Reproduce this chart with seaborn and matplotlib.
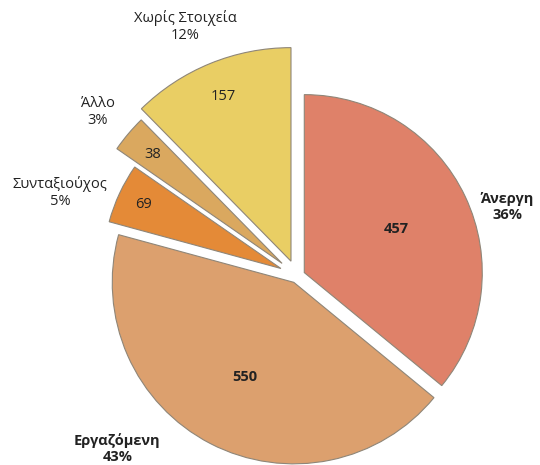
import numpy as np
import matplotlib
matplotlib.use("Agg")
import matplotlib.pyplot as plt
import seaborn as sns

# ---- data ----
categories = ["Άνεργη", "Εργαζόμενη", "Συνταξιούχος", "Άλλο", "Χωρίς Στοιχεία"]
values = [457, 550, 69, 38, 157]
percent_labels = ["36%", "43%", "5%", "3%", "12%"]

# ---- style ----
sns.set_theme(style="white")
plt.rcParams['font.family'] = ['Open Sans', 'DejaVu Sans']

colors = sns.color_palette(["#DF8169", "#DCA06E", "#E48A37", "#DAA85F", "#E9CE64"])
explode = [0.045, 0.04, 0.10, 0.11, 0.09]
radius_scale = [1.0, 1.02, 1.0, 1.13, 1.2]
value_dist = [0.57, 0.60, 0.85, 0.95, 1.0]
value_bold = [True, True, False, False, False]
label_bold = [True, True, False, False, False]
label_pos = [(1.18, 0.39), (-1.01, -0.97), (-1.33, 0.47), (-1.12, 0.92), (-0.63, 1.40)]

fig = plt.figure(figsize=(5.4, 4.65), dpi=100)
ax = fig.add_axes([0, 0, 1, 1])

wedges, _ = ax.pie(values, colors=colors, explode=explode, startangle=90,
                   counterclock=False,
                   wedgeprops=dict(edgecolor="#8f8678", linewidth=0.8))

for w, rs, d, b, v in zip(wedges, radius_scale, value_dist, value_bold, values):
    w.set_radius(w.r * rs)
    mid = np.deg2rad((w.theta1 + w.theta2) / 2)
    cx, cy = w.center
    ax.text(cx + d * np.cos(mid), cy + d * np.sin(mid), str(v),
            ha="center", va="center", fontsize=10.5,
            fontweight="bold" if b else "normal", color="#222222")

for cat, pct, (lx, ly), b in zip(categories, percent_labels, label_pos, label_bold):
    ax.text(lx, ly, f"{cat}\n{pct}", ha="center", va="center", fontsize=10.5,
            fontweight="bold" if b else "normal", color="#222222",
            linespacing=1.2)

ax.set_xlim(-1.669, 1.365)
ax.set_ylim(-1.062, 1.551)
ax.set_aspect("auto")
ax.axis("off")

fig.savefig("out.png", dpi=100, facecolor="white")
